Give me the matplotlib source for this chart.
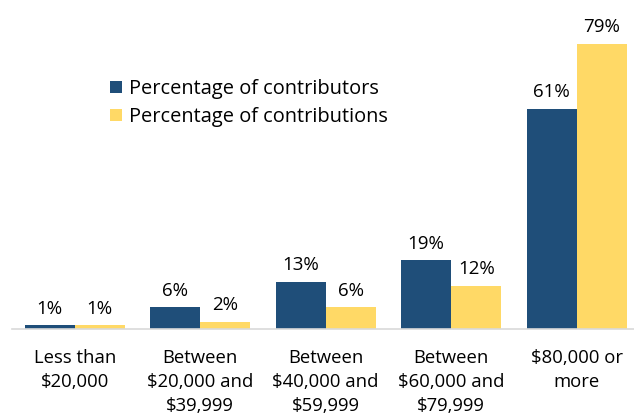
import matplotlib
matplotlib.use("Agg")
import matplotlib.pyplot as plt
import numpy as np

categories = ["Less than\n$20,000", "Between\n$20,000 and\n$39,999", "Between\n$40,000 and\n$59,999",
              "Between\n$60,000 and\n$79,999", "$80,000 or\nmore"]
contributors = [1, 6, 13, 19, 61]
contributions = [1, 2, 6, 12, 79]
series_names = ["Percentage of contributors", "Percentage of contributions"]
colors = ["#1F4E79", "#FFD966"]

plt.rcParams['font.family'] = ['Open Sans', 'DejaVu Sans']
fig = plt.figure(figsize=(6.34, 4.17), dpi=100)
W, H = 634, 417
left, right = 12, 639.5
base = 329
ymax = 85
ppu = (329 - 44) / 79
top = base - ymax * ppu
ax = fig.add_axes([left / W, (H - base) / H, (right - left) / W, (base - top) / H])

x = np.arange(len(categories))
bw = 0.4
b1 = ax.bar(x - bw / 2, contributors, bw, color=colors[0], label=series_names[0])
b2 = ax.bar(x + bw / 2, contributions, bw, color=colors[1], label=series_names[1])
for bars, vals in ((b1, contributors), (b2, contributions)):
    for r, v in zip(bars, vals):
        ax.annotate(f"{v}%", (r.get_x() + r.get_width() / 2, v), xytext=(0, 5.5),
                    textcoords="offset points", ha="center", va="bottom", fontsize=13.5, color="#000000")

ax.set_xlim(-0.5, len(categories) - 0.5)
ax.set_ylim(0, ymax)
ax.set_yticks([])
ax.set_xticks(x)
ax.set_xticklabels(categories, fontsize=13.3, linespacing=1.42, va="top")
ax.tick_params(axis="x", length=0, pad=14.5)
for s in ["top", "left", "right"]:
    ax.spines[s].set_visible(False)
ax.spines["bottom"].set_color("#D9D9D9")
ax.spines["bottom"].set_linewidth(1.2)

leg = ax.legend(loc="upper left", bbox_to_anchor=(0.156, 0.815), frameon=False, fontsize=14.4,
                handlelength=0.6, handleheight=0.6, handletextpad=0.35, labelspacing=0.4,
                borderpad=0, borderaxespad=0)

fig.savefig("out.png", dpi=100)
